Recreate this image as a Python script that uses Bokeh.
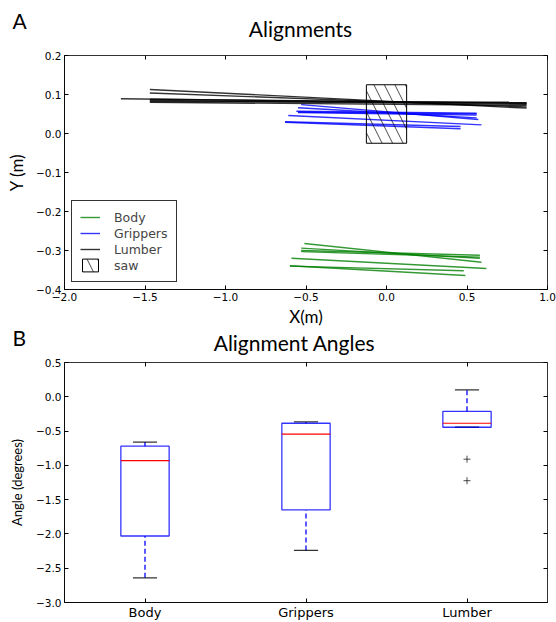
from bokeh.plotting import figure
from bokeh.models import (Range1d, FixedTicker, LinearAxis, Label, Legend,
                          LegendItem, CustomJSTickFormatter, ColumnDataSource)
from bokeh.layouts import column
from bokeh.embed import file_html
from bokeh.resources import INLINE

# ---------------- data: alignments (metres) ----------------
body_x0 = [-0.51, -0.53, -0.53, -0.53, -0.59, -0.60, -0.60]
body_y0 = [-0.282, -0.294, -0.300, -0.303, -0.320, -0.339, -0.340]
body_x1 = [0.59, 0.58, 0.58, 0.58, 0.62, 0.49, 0.48]
body_y1 = [-0.330, -0.320, -0.312, -0.317, -0.346, -0.364, -0.352]

grip_x0 = [-0.53, -0.55, -0.56, -0.55, -0.55, -0.61, -0.63, -0.63]
grip_y0 = [0.074, 0.066, 0.057, 0.054, 0.055, 0.046, 0.029, 0.030]
grip_x1 = [0.57, 0.56, 0.56, 0.56, 0.56, 0.59, 0.46, 0.46]
grip_y1 = [0.036, 0.040, 0.052, 0.047, 0.050, 0.022, 0.012, 0.018]

lumb_x0 = [-1.47, -1.47, -1.47, -1.47, -1.47, -1.47, -1.65]
lumb_y0 = [0.113, 0.104, 0.088, 0.085, 0.082, 0.080, 0.089]
lumb_x1 = [0.87, 0.87, 0.87, 0.87, 0.87, 0.87, 0.87]
lumb_y1 = [0.065, 0.068, 0.078, 0.075, 0.080, 0.072, 0.077]

saw_left, saw_right, saw_bottom, saw_top = -0.125, 0.125, -0.025, 0.125

x_ticks_a = [-2.0, -1.5, -1.0, -0.5, 0.0, 0.5, 1.0]
y_ticks_a = [-0.4, -0.3, -0.2, -0.1, 0.0, 0.1, 0.2]

# ---------------- data: alignment angles (degrees) ----------------
categories = ["Body", "Grippers", "Lumber"]
whisk_lo = [-2.64, -2.24, -0.444]
q1 = [-2.03, -1.65, -0.444]
median = [-0.93, -0.545, -0.386]
q3 = [-0.72, -0.386, -0.212]
whisk_hi = [-0.66, -0.367, 0.10]
outlier_cat = [3, 3]
outlier_val = [-0.91, -1.224]
y_ticks_b = [-3.0, -2.5, -2.0, -1.5, -1.0, -0.5, 0.0, 0.5]

FMT = CustomJSTickFormatter(code="""
    const s = Math.abs(tick).toFixed(1);
    return (tick < -1e-9 ? '\u2212' : '') + s;
""")
BLANK = CustomJSTickFormatter(code="return '';")

TICK_FONT = "DejaVu Sans"
LBL_FONT = "Lato"


def style_axes(p, xticks, yticks, xfmt=True):
    p.xgrid.visible = False
    p.ygrid.visible = False
    p.outline_line_color = "black"
    p.outline_line_width = 1
    p.outline_line_alpha = 0.8
    bx, ly = p.below[0], p.left[0]
    for ax in (bx, ly):
        ax.major_tick_in = 4
        ax.major_tick_out = 0
        ax.minor_tick_line_color = None
        ax.axis_line_color = "black"
        ax.axis_line_alpha = 0.8
        ax.major_tick_line_color = "black"
        ax.major_label_text_font = TICK_FONT
        ax.major_label_text_font_size = "10.5px"
        ax.major_label_text_color = "black"
        ax.major_label_standoff = 3
        ax.axis_label_text_font = LBL_FONT
        ax.axis_label_text_font_style = "normal"
        ax.axis_label_text_color = "black"
    bx.ticker = FixedTicker(ticks=xticks)
    ly.ticker = FixedTicker(ticks=yticks)
    if xfmt:
        bx.formatter = FMT
    ly.formatter = FMT
    # mirrored ticks (top & right), no labels
    top = LinearAxis(ticker=FixedTicker(ticks=xticks), major_tick_in=4,
                     major_tick_out=0, minor_tick_line_color=None,
                     axis_line_color=None, formatter=BLANK,
                     major_label_standoff=0, major_tick_line_color="black")
    right = LinearAxis(ticker=FixedTicker(ticks=yticks), major_tick_in=4,
                       major_tick_out=0, minor_tick_line_color=None,
                       axis_line_color=None, formatter=BLANK,
                       major_label_standoff=0, major_tick_line_color="black")
    p.add_layout(top, "above")
    p.add_layout(right, "right")
    return bx, ly


def head_label(text, x, y, align, baseline):
    return Label(x=x, y=y, x_units="canvas", y_units="canvas", text=text,
                 text_font=LBL_FONT, text_font_size="21px",
                 text_align=align, text_baseline=baseline,
                 text_color="black")


# ---------------- figure A ----------------
A_H, A_TOP, A_BOT = 329, 55, 38
pa = figure(width=556, height=A_H, output_backend="svg", toolbar_location=None,
            title=None,
            x_range=Range1d(-2.0, 1.0), y_range=Range1d(-0.4, 0.2),
            min_border_left=64, min_border_right=9, min_border_top=A_TOP,
            min_border_bottom=A_BOT)

r_body = pa.multi_line(xs=[[a, b] for a, b in zip(body_x0, body_x1)],
                       ys=[[a, b] for a, b in zip(body_y0, body_y1)],
                       line_color="#008000", line_width=1.4, line_alpha=0.8)
r_grip = pa.multi_line(xs=[[a, b] for a, b in zip(grip_x0, grip_x1)],
                       ys=[[a, b] for a, b in zip(grip_y0, grip_y1)],
                       line_color="#0000ff", line_width=1.4, line_alpha=0.8)
r_lumb = pa.multi_line(xs=[[a, b] for a, b in zip(lumb_x0, lumb_x1)],
                       ys=[[a, b] for a, b in zip(lumb_y0, lumb_y1)],
                       line_color="black", line_width=1.4, line_alpha=0.8)
r_saw = pa.quad(left=[saw_left], right=[saw_right], bottom=[saw_bottom],
                top=[saw_top], fill_color=None, line_color="black",
                line_width=1, hatch_pattern="\\", hatch_color="black",
                hatch_scale=21, hatch_weight=0.7)

legend = Legend(items=[LegendItem(label="Body", renderers=[r_body]),
                       LegendItem(label="Grippers", renderers=[r_grip]),
                       LegendItem(label="Lumber", renderers=[r_lumb]),
                       LegendItem(label="saw", renderers=[r_saw])],
                location="bottom_left", margin=7, padding=8, spacing=0,
                label_height=16, glyph_height=16, glyph_width=20,
                label_standoff=14, border_line_color="black",
                border_line_width=1, border_line_alpha=0.8,
                label_text_font=TICK_FONT, label_text_font_size="12.5px",
                background_fill_alpha=1)
pa.add_layout(legend, "center")

bxa, lya = style_axes(pa, x_ticks_a, y_ticks_a)
bxa.axis_label = "X(m)"
bxa.axis_label_text_font_size = "17px"
bxa.axis_label_standoff = 2
lya.axis_label = "Y (m)"
lya.axis_label_text_font_size = "17px"
lya.axis_label_standoff = 6

pa.add_layout(head_label("A", 12, 7, "left", "top"), "above")
pa.add_layout(head_label("Alignments", 300, 28, "center", "middle"), "above")

# ---------------- figure B ----------------
OVERLAP = 21
B_H, B_TOP, B_BOT = 622 - A_H + OVERLAP, 54, 18
pos = list(range(1, len(categories) + 1))
pb = figure(width=556, height=B_H, output_backend="svg", toolbar_location=None,
            title=None,
            x_range=Range1d(0.5, len(categories) + 0.5),
            y_range=Range1d(-3.0, 0.5),
            min_border_left=64, min_border_right=8, min_border_top=B_TOP,
            min_border_bottom=B_BOT, border_fill_alpha=0,
            margin=(-OVERLAP, 0, 0, 0))

src = ColumnDataSource(dict(
    pos=pos,
    left=[p - 0.15 for p in pos], right=[p + 0.15 for p in pos],
    cl=[p - 0.075 for p in pos], cr=[p + 0.075 for p in pos],
    lo=whisk_lo, q1=q1, med=median, q3=q3, hi=whisk_hi))

pb.segment(x0="pos", x1="pos", y0="q3", y1="hi", source=src,
           line_color="#0000ff", line_dash="5 3", line_width=1.3)
pb.segment(x0="pos", x1="pos", y0="lo", y1="q1", source=src,
           line_color="#0000ff", line_dash="5 3", line_width=1.3)
pb.segment(x0="cl", x1="cr", y0="hi", y1="hi", source=src,
           line_color="black", line_width=1.3, line_alpha=0.8)
pb.segment(x0="cl", x1="cr", y0="lo", y1="lo", source=src,
           line_color="black", line_width=1.3, line_alpha=0.8)
pb.quad(left="left", right="right", bottom="q1", top="q3", source=src,
        fill_color=None, line_color="#0000ff", line_width=1.3, line_alpha=0.8)
pb.segment(x0="left", x1="right", y0="med", y1="med", source=src,
           line_color="red", line_width=1.2)
pb.scatter(x=outlier_cat, y=outlier_val, marker="cross", size=7,
           line_color="black", line_width=1, line_alpha=0.7)

bxb, lyb = style_axes(pb, pos, y_ticks_b, xfmt=False)
bxb.major_label_overrides = {p: c for p, c in zip(pos, categories)}
bxb.major_label_text_font_size = "13px"
bxb.major_label_standoff = 2
lyb.axis_label = "Angle (degrees)"
lyb.axis_label_text_font_size = "13px"
lyb.axis_label_standoff = 8

pb.add_layout(head_label("B", 12, OVERLAP - 5, "left", "top"), "above")
pb.add_layout(head_label("Alignment Angles", 294, OVERLAP + 13,
                         "center", "middle"), "above")

layout = column(pa, pb, spacing=0)
open("out.html", "w").write(file_html(layout, INLINE))
